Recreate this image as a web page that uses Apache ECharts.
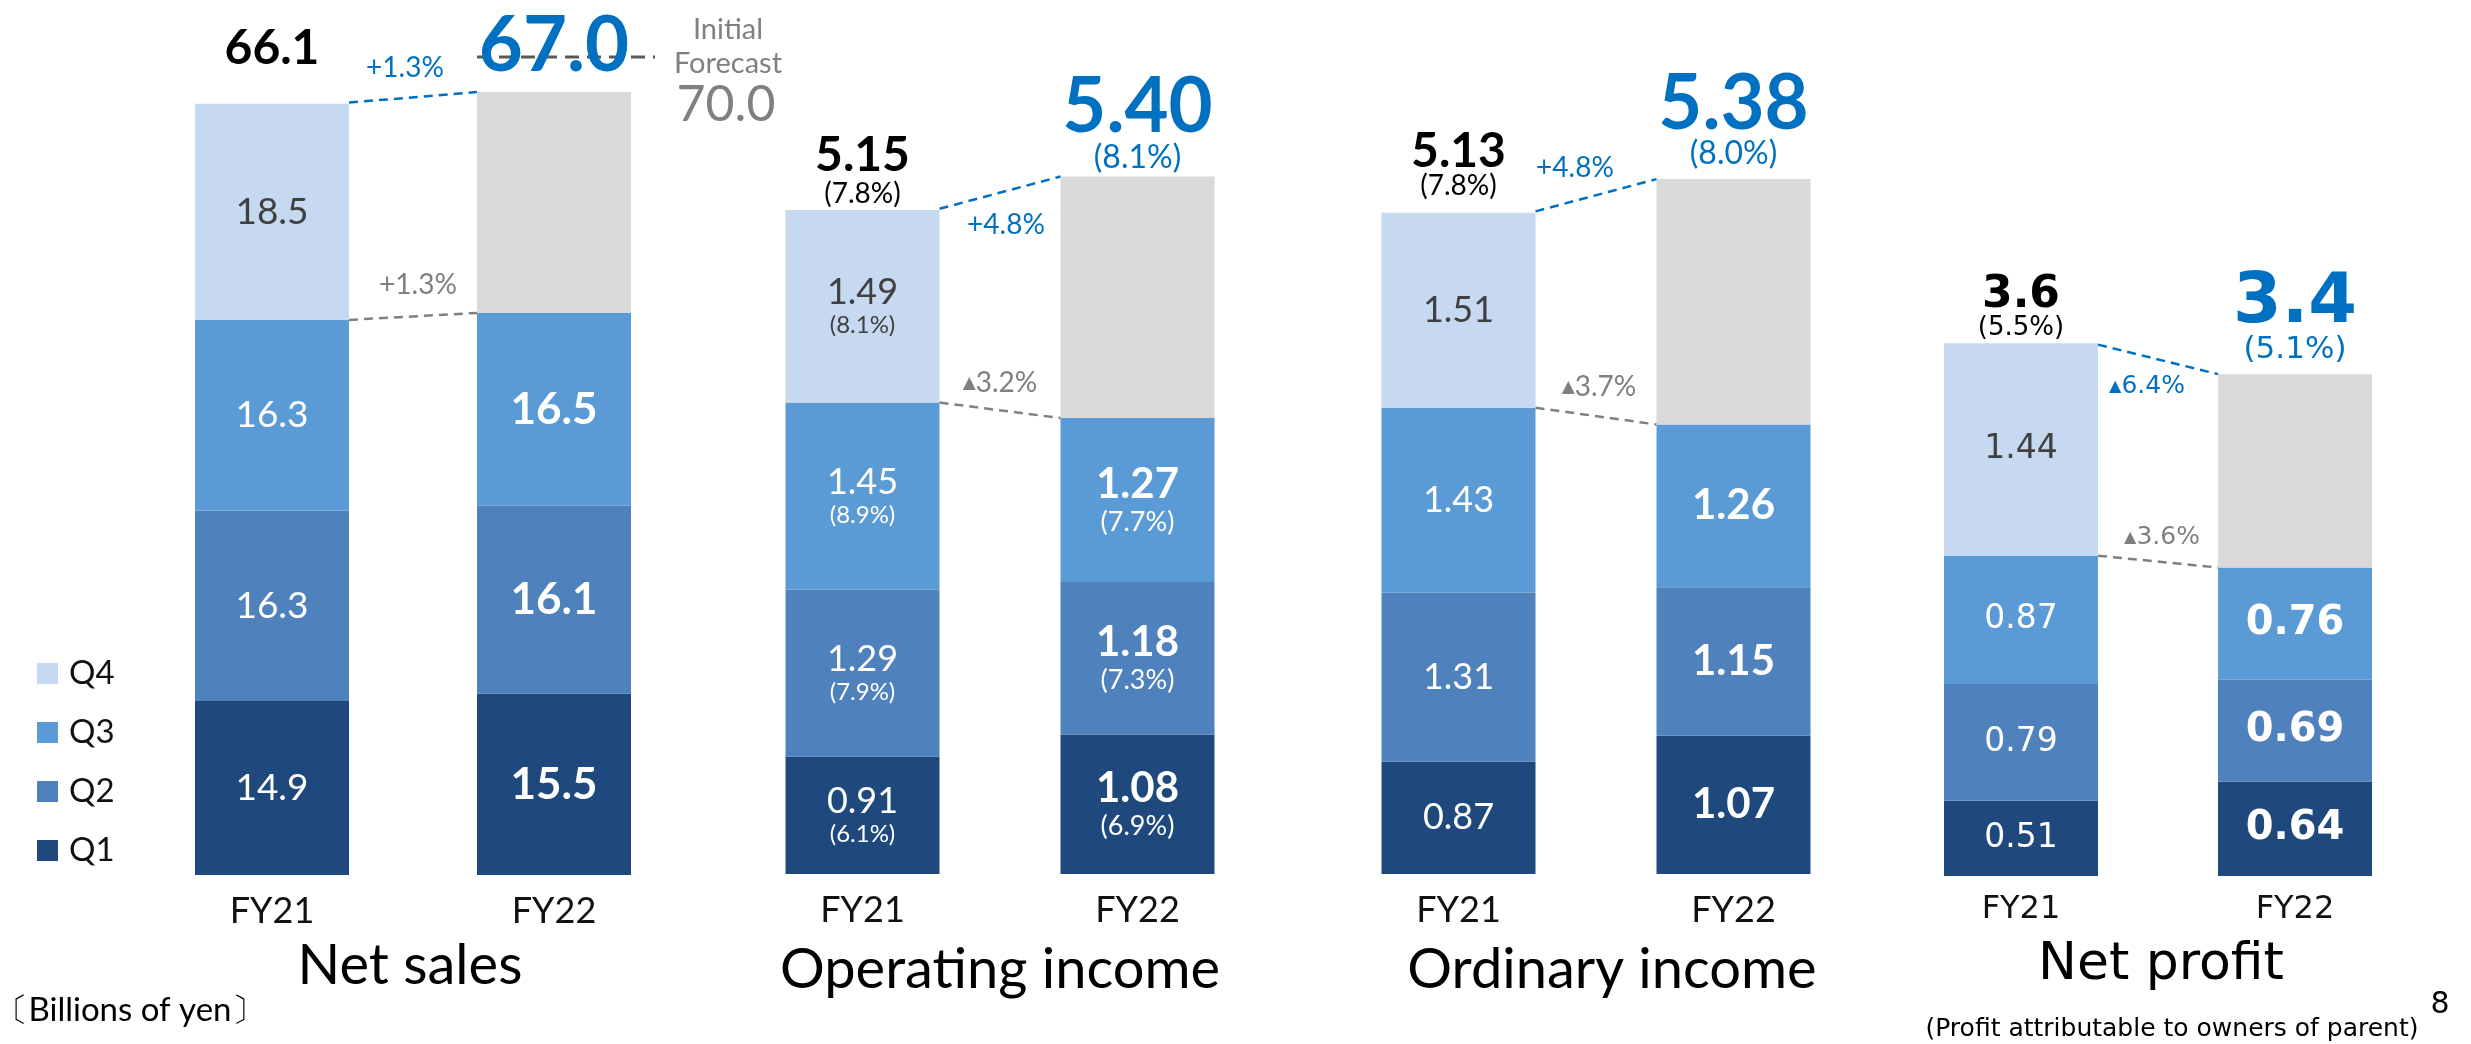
<!DOCTYPE html>
<html>
<head>
<meta charset="utf-8">
<title>FY22 results by quarter</title>
<script src="https://cdn.jsdelivr.net/npm/echarts@6/dist/echarts.min.js"></script>
<style>
  html, body { margin: 0; padding: 0; background: #fff; }
  #chart { width: 2471px; height: 1044px; }
</style>
</head>
<body>
<div id="chart"></div>
<script>
const years = ['FY21', 'FY22']
const quarters = ['Q1', 'Q2', 'Q3', 'Q4']

// Net sales (billions of yen)
const salesQ1 = [14.9, 15.5]
const salesQ2 = [16.3, 16.1]
const salesQ3 = [16.3, 16.5]
const salesQ4 = [18.5, null]
const salesTotal = [66.1, 67.0]
const salesForecast = 70.0
const salesChange = ['+1.3%', '+1.3%'] // full year, up to Q3

// Operating income
const opQ1 = [0.91, 1.08]
const opQ2 = [1.29, 1.18]
const opQ3 = [1.45, 1.27]
const opQ4 = [1.49, null]
const opTotal = [5.15, 5.40]
const opMarginQ1 = ['6.1%', '6.9%']
const opMarginQ2 = ['7.9%', '7.3%']
const opMarginQ3 = ['8.9%', '7.7%']
const opMarginQ4 = ['8.1%', null]
const opMarginTotal = ['7.8%', '8.1%']
const opChange = ['+4.8%', '▲3.2%']

// Ordinary income
const ordQ1 = [0.87, 1.07]
const ordQ2 = [1.31, 1.15]
const ordQ3 = [1.43, 1.26]
const ordQ4 = [1.51, null]
const ordTotal = [5.13, 5.38]
const ordMarginTotal = ['7.8%', '8.0%']
const ordChange = ['+4.8%', '▲3.7%']

// Net profit (attributable to owners of parent)
const npQ1 = [0.51, 0.64]
const npQ2 = [0.79, 0.69]
const npQ3 = [0.87, 0.76]
const npQ4 = [1.44, null]
const npTotal = [3.6, 3.4]
const npMarginTotal = ['5.5%', '5.1%']
const npChange = ['▲6.4%', '▲3.6%']

const BAR_W = 154
const BLUE = '#0070c0'
const GREY_TXT = '#7f7f7f'
const COLORS = ['#1f497d', '#4f81bd', '#5b9bd5', '#c6d9f0']
const REST = '#d9d9d9'
const FONT = 'Lato, "Liberation Sans", sans-serif'
const WIDE = '"DejaVu Sans", sans-serif'

const panels = [
  {
    title: 'Net sales', q: [salesQ1, salesQ2, salesQ3, salesQ4], qMargin: null,
    total: salesTotal, totalMargin: null, change: salesChange, forecast: salesForecast,
    dec: 1, totDec: 1, font: FONT,
    grid: { left: 131, width: 564, top: 57, height: 818 }, max: 70,
    seg: 37, segB: 44, pct: 24, pctB: 27,
    tot: 48, totLh: 48, totB: 76, totBLh: 76, pTot: 28, pTotB: 32, totDist: [30, 8],
    chg: 28, blueOff: [-8, -29], greyOff: [5, -31],
    titleX: 410, titleY: 966, titleSize: 56, axisSize: 36
  },
  {
    title: 'Operating income', q: [opQ1, opQ2, opQ3, opQ4],
    qMargin: [opMarginQ1, opMarginQ2, opMarginQ3, opMarginQ4],
    total: opTotal, totalMargin: opMarginTotal, change: opChange,
    dec: 2, totDec: 2, font: FONT,
    grid: { left: 725, width: 550, top: 99, height: 775 }, max: 6,
    seg: 36, segB: 42, pct: 24, pctB: 27,
    tot: 48, totLh: 46, totB: 76, totBLh: 66, pTot: 28, pTotB: 32, totDist: [0, 2],
    chg: 28, blueOff: [6, 32], greyOff: [0, -27],
    titleX: 1000, titleY: 970, titleSize: 56, axisSize: 36
  },
  {
    title: 'Ordinary income', q: [ordQ1, ordQ2, ordQ3, ordQ4], qMargin: null,
    total: ordTotal, totalMargin: ordMarginTotal, change: ordChange,
    dec: 2, totDec: 2, font: FONT,
    grid: { left: 1321, width: 550, top: 99, height: 775 }, max: 6,
    seg: 36, segB: 42, pct: 24, pctB: 27,
    tot: 48, totLh: 40, totB: 76, totBLh: 66, pTot: 28, pTotB: 32, totDist: [10, 8],
    chg: 28, blueOff: [-21, -27], greyOff: [3, -29],
    titleX: 1612, titleY: 970, titleSize: 56, axisSize: 36
  },
  {
    title: 'Net profit', q: [npQ1, npQ2, npQ3, npQ4], qMargin: null,
    total: npTotal, totalMargin: npMarginTotal, change: npChange,
    dec: 2, totDec: 1, font: WIDE,
    grid: { left: 1884, width: 548, top: 138, height: 738 }, max: 5,
    seg: 33, segB: 40, pct: 22, pctB: 24,
    tot: 44, totLh: 38, totB: 70, totBLh: 58, pTot: 26, pTotB: 31, totDist: [2, 8],
    chg: 25, blueOff: [-11, 27], greyOff: [4, -24],
    titleX: 2161, titleY: 965, titleSize: 52, axisSize: 32
  }
]

function segData(p, qi) {
  return p.q[qi].map((v, yi) => {
    if (v == null) return null
    const bold = yi === 1
    const pct = p.qMargin ? p.qMargin[qi][yi] : null
    const color = qi === 3 ? '#404040' : '#ffffff'
    const txt = v.toFixed(p.dec)
    return {
      value: v,
      label: {
        show: true,
        position: 'inside',
        formatter: pct ? `{v|${txt}}\n{p|(${pct})}` : `{v|${txt}}`,
        rich: {
          v: { fontSize: bold ? p.segB : p.seg, fontWeight: bold ? 'bold' : 'normal', color, fontFamily: p.font, lineHeight: (bold ? p.segB : p.seg) + 2 },
          p: { fontSize: bold ? p.pctB : p.pct, color, fontFamily: p.font, lineHeight: (bold ? p.pctB : p.pct) + 4 }
        }
      }
    }
  })
}

function totalLabel(p, yi) {
  const fy22 = yi === 1
  const color = fy22 ? BLUE : '#000'
  const txt = p.total[yi].toFixed(p.totDec)
  const m = p.totalMargin ? p.totalMargin[yi] : null
  return {
    show: true,
    position: 'top',
    distance: p.totDist[yi],
    formatter: m ? `{v|${txt}}\n{p|(${m})}` : `{v|${txt}}`,
    rich: {
      v: { fontSize: fy22 ? p.totB : p.tot, lineHeight: fy22 ? p.totBLh : p.totLh, fontWeight: 'bold', color, fontFamily: p.font },
      p: { fontSize: fy22 ? p.pTotB : p.pTot, lineHeight: (fy22 ? p.pTotB : p.pTot) + 2, color, fontFamily: p.font }
    }
  }
}

function changeText(str, color, size, family, x, y) {
  const up = str.charAt(0) === '▲'
  return {
    type: 'text', x, y,
    style: {
      text: up ? `{t|▲}{n|${str.slice(1)}}` : `{n|${str}}`,
      fill: color, align: 'center', verticalAlign: 'middle',
      textAlign: 'center', textVerticalAlign: 'middle',
      rich: {
        t: { fontSize: Math.round(size * 0.62), fontFamily: '"DejaVu Sans", sans-serif', fill: color },
        n: { fontSize: size, fontFamily: family, fill: color }
      }
    }
  }
}

const grids = [], xAxes = [], yAxes = [], series = []

panels.forEach((p, i) => {
  grids.push(Object.assign({ containLabel: false }, p.grid))
  xAxes.push({
    type: 'category', gridIndex: i, data: years,
    axisLine: { show: false }, axisTick: { show: false }, splitLine: { show: false },
    axisLabel: { fontSize: p.axisSize, color: '#111', fontFamily: p.font, margin: 18 }
  })
  yAxes.push({ type: 'value', gridIndex: i, min: 0, max: p.max, show: false, splitLine: { show: false } })

  quarters.forEach((name, qi) => {
    series.push({
      name, type: 'bar', stack: 'p' + i, xAxisIndex: i, yAxisIndex: i,
      barWidth: BAR_W, itemStyle: { color: COLORS[qi] },
      data: segData(p, qi)
    })
  })
  const cum = [0, 1].map(yi => p.q[0][yi] + p.q[1][yi] + p.q[2][yi])
  series.push({
    name: 'Remaining', type: 'bar', stack: 'p' + i, xAxisIndex: i, yAxisIndex: i,
    barWidth: BAR_W, itemStyle: { color: REST },
    data: [null, +(p.total[1] - cum[1]).toFixed(2)]
  })

  // YoY connectors, change rates, forecast line
  series.push({
    type: 'custom', xAxisIndex: i, yAxisIndex: i, silent: true, z: 3,
    encode: { x: 0, y: 1 },
    data: [[0, p.total[0]]],
    renderItem: (params, api) => {
      const hw = BAR_W / 2
      const a = api.coord([0, p.total[0]]), b = api.coord([1, p.total[1]])
      const c = api.coord([0, cum[0]]), d = api.coord([1, cum[1]])
      const dash = { lineWidth: 2.5, lineDash: [9, 6] }
      const children = [
        { type: 'line', shape: { x1: a[0] + hw, y1: a[1], x2: b[0] - hw, y2: b[1] }, style: Object.assign({ stroke: BLUE }, dash) },
        { type: 'line', shape: { x1: c[0] + hw, y1: c[1], x2: d[0] - hw, y2: d[1] }, style: Object.assign({ stroke: '#808080' }, dash) },
        changeText(p.change[0], BLUE, p.chg, p.font, (a[0] + b[0]) / 2 + p.blueOff[0], (a[1] + b[1]) / 2 + p.blueOff[1]),
        changeText(p.change[1], GREY_TXT, p.chg, p.font, (c[0] + d[0]) / 2 + p.greyOff[0], (c[1] + d[1]) / 2 + p.greyOff[1])
      ]
      if (p.forecast) {
        const f = api.coord([1, p.forecast])
        const x2 = f[0] + hw + 24
        children.push({ type: 'line', shape: { x1: f[0] - hw, y1: f[1], x2, y2: f[1] }, style: { stroke: '#595959', lineWidth: 3, lineDash: [14, 8] } })
        const t = (text, dx, dy, size) => ({
          type: 'text', x: x2 + dx, y: f[1] + dy,
          style: { text, fill: '#808080', fontSize: size, fontFamily: FONT, align: 'center', verticalAlign: 'middle', textAlign: 'center', textVerticalAlign: 'middle' }
        })
        children.push(t('Initial', 73, -27, 29), t('Forecast', 73, 7, 29), t(p.forecast.toFixed(1), 71, 48, 50))
      }
      return { type: 'group', children }
    }
  })

  // totals above each bar
  series.push({
    type: 'scatter', xAxisIndex: i, yAxisIndex: i, symbolSize: 0, silent: true, z: 5,
    itemStyle: { opacity: 1 },
    data: p.total.map((v, yi) => ({ value: [yi, v], label: totalLabel(p, yi) }))
  })
})

const graphics = panels.map(p => ({
  type: 'text', x: p.titleX, y: p.titleY,
  style: { text: p.title, fontSize: p.titleSize, fontFamily: p.font, fill: '#000', align: 'center', verticalAlign: 'middle', textAlign: 'center', textVerticalAlign: 'middle' }
}))
graphics.push(
  { type: 'text', x: 130, y: 1010, style: { text: '〔Billions of yen〕', fontSize: 33, fontFamily: FONT, fill: '#000', align: 'center', verticalAlign: 'middle' } },
  { type: 'text', x: 2172, y: 1029, style: { text: '(Profit attributable to owners of parent)', fontSize: 25, fontFamily: WIDE, fill: '#000', align: 'center', verticalAlign: 'middle' } },
  { type: 'text', x: 2440, y: 1005, style: { text: '8', fontSize: 30, fontFamily: WIDE, fill: '#000', align: 'center', verticalAlign: 'middle' } }
)

const chart = echarts.init(document.getElementById('chart'))
chart.setOption({
  animation: false,
  backgroundColor: '#fff',
  legend: {
    data: ['Q4', 'Q3', 'Q2', 'Q1'], orient: 'vertical', left: 32, top: 652,
    itemWidth: 21, itemHeight: 21, itemGap: 26, selectedMode: false, icon: 'rect',
    textStyle: { fontSize: 33, color: '#111', fontFamily: FONT, padding: [0, 0, 0, 6] }
  },
  grid: grids,
  xAxis: xAxes,
  yAxis: yAxes,
  series,
  graphic: graphics
})
</script>
</body>
</html>
